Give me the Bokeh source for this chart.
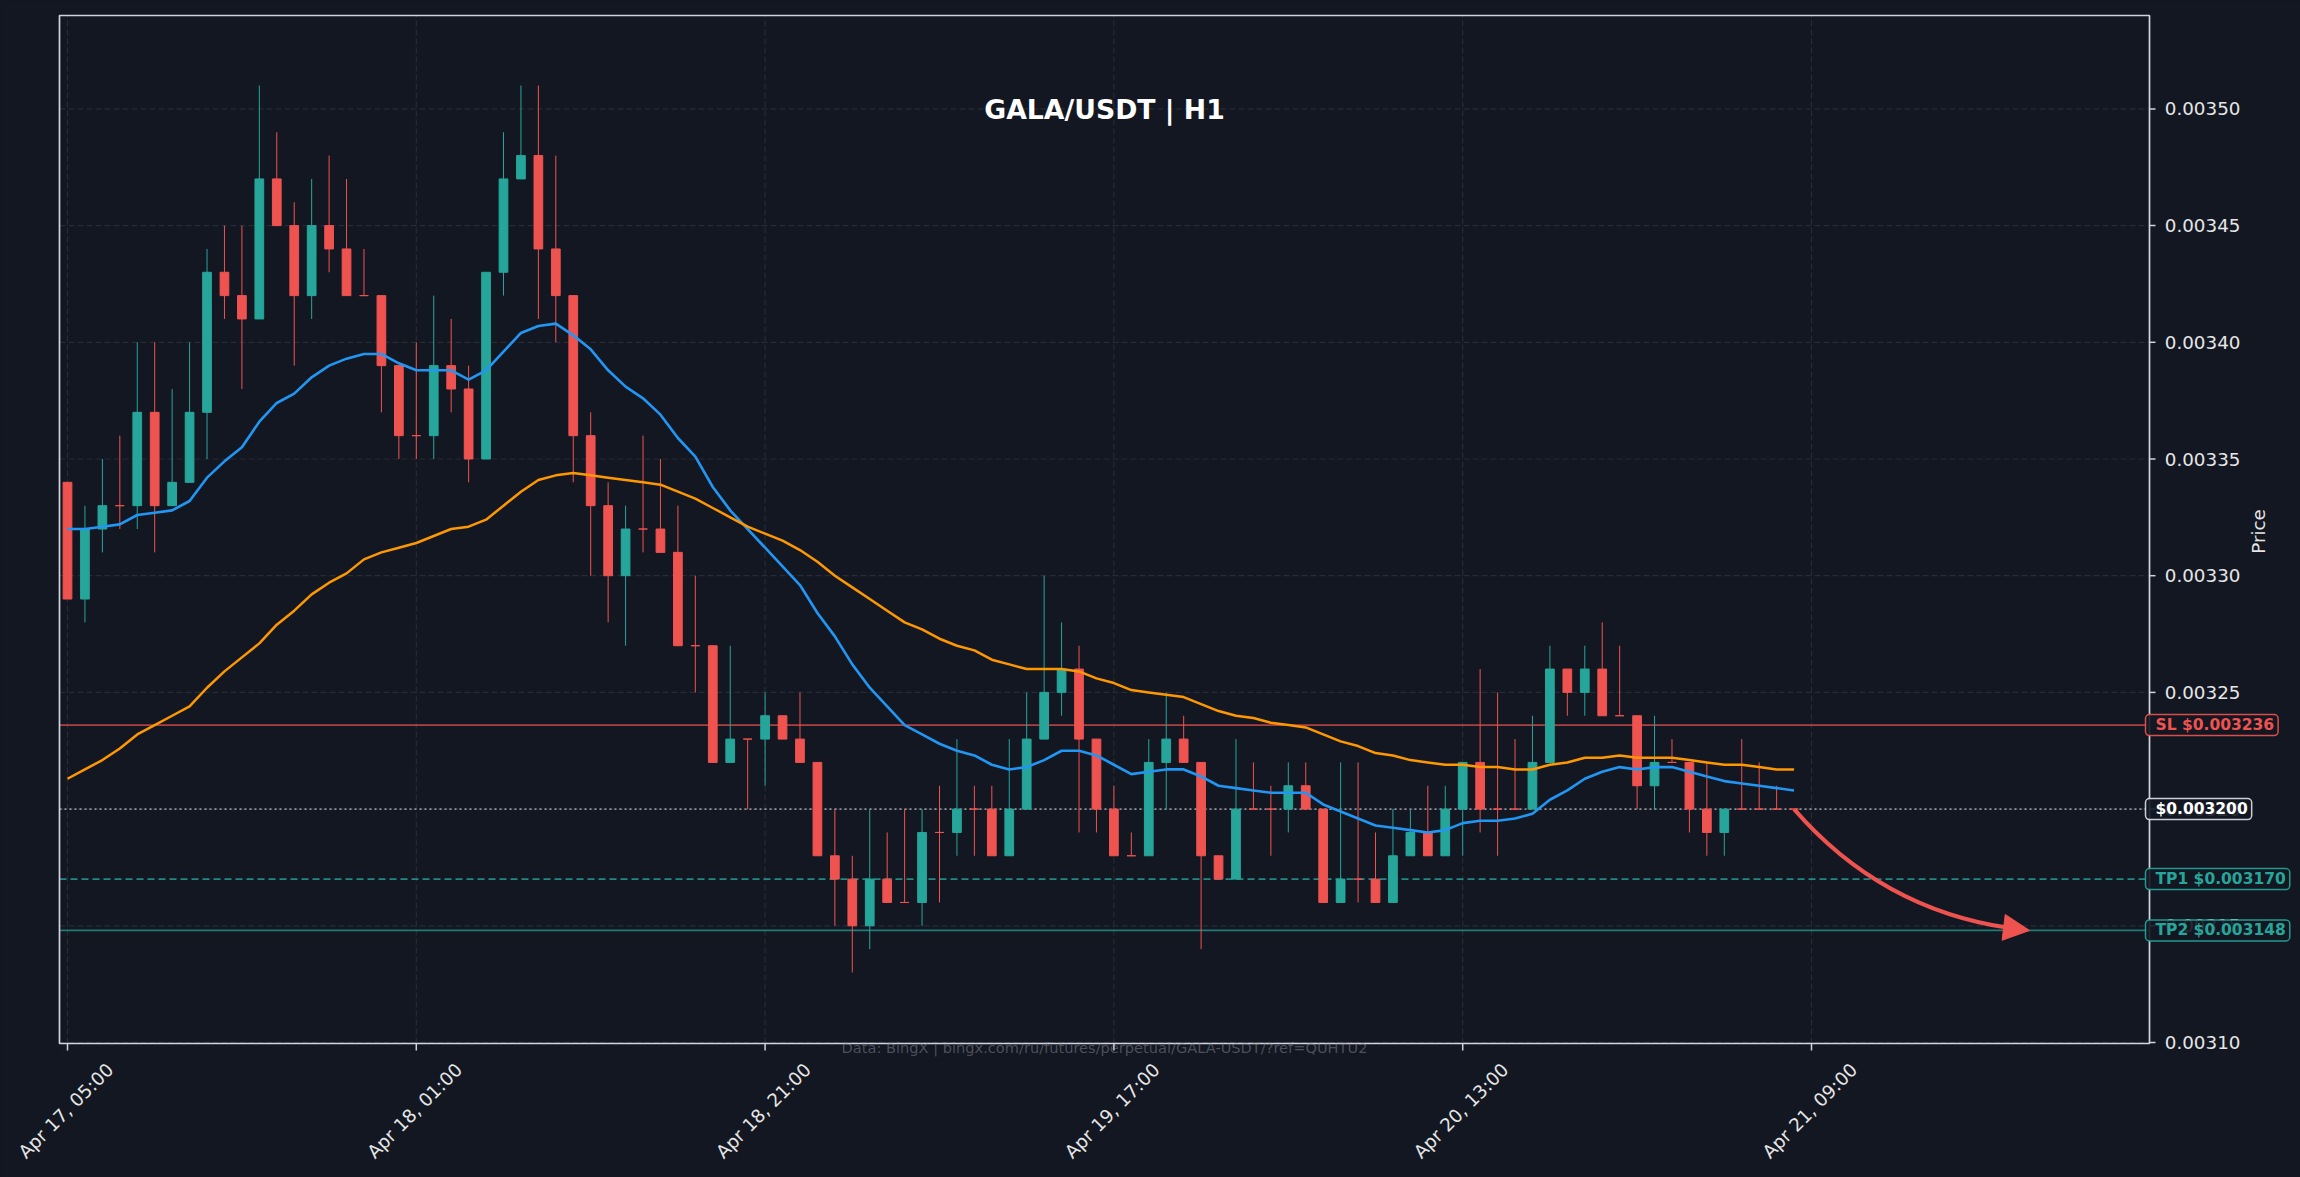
import math
from bokeh.plotting import figure
from bokeh.models import (Label, FixedTicker, Range1d, LinearAxis, Arrow, NormalHead,
                          ColumnDataSource, BoxAnnotation)
from bokeh.core.properties import value
from bokeh.embed import file_html
from bokeh.resources import INLINE

# ---------------- data (prices in units of 0.00001 USDT) ----------------
PRICE_UNIT = 0.00001
opens_u = [334, 329, 332, 333, 333, 337, 333, 334, 337, 343,
           342, 341, 347, 345, 342, 345, 344, 342, 342, 339,
           336, 336, 339, 338, 335, 343, 347, 348, 344, 342,
           336, 333, 330, 332, 332, 331, 327, 327, 322, 323,
           323, 324, 323, 322, 318, 317, 315, 317, 316, 316,
           319, 319, 320, 320, 318, 320, 323, 325, 326, 323,
           320, 318, 318, 322, 323, 322, 318, 317, 320, 320,
           320, 321, 320, 316, 317, 317, 316, 318, 319, 318,
           320, 322, 320, 320, 320, 322, 326, 325, 326, 324,
           324, 321, 322, 322, 320, 319, 320, 320, 320, 320]
highs_u = [334, 333, 335, 336, 340, 340, 338, 340, 344, 345,
           345, 351, 349, 346, 347, 348, 347, 344, 342, 339,
           340, 342, 341, 339, 343, 349, 351, 351, 348, 342,
           337, 334, 333, 336, 335, 333, 330, 327, 327, 323,
           325, 324, 325, 322, 320, 318, 320, 319, 320, 320,
           321, 323, 321, 321, 323, 325, 330, 328, 327, 323,
           321, 319, 323, 325, 324, 322, 318, 323, 322, 321,
           322, 322, 320, 322, 322, 319, 320, 320, 321, 321,
           322, 326, 325, 323, 324, 327, 326, 327, 328, 327,
           324, 324, 323, 322, 322, 320, 323, 322, 321, 320]
lows_u = [329, 328, 331, 332, 332, 331, 333, 334, 335, 341,
          338, 341, 345, 339, 341, 343, 342, 342, 337, 335,
          335, 335, 337, 334, 335, 342, 347, 341, 340, 334,
          330, 328, 327, 331, 331, 327, 325, 322, 322, 320,
          321, 323, 322, 318, 315, 313, 314, 316, 316, 315,
          316, 318, 318, 318, 318, 320, 323, 324, 319, 319,
          318, 318, 318, 320, 322, 314, 317, 317, 320, 318,
          319, 320, 316, 316, 316, 316, 316, 318, 318, 318,
          318, 319, 318, 320, 320, 322, 324, 324, 324, 324,
          320, 320, 322, 319, 318, 318, 320, 320, 320, 320]
closes_u = [329, 332, 333, 333, 337, 333, 334, 337, 343, 342,
            341, 347, 345, 342, 345, 344, 342, 342, 339, 336,
            336, 339, 338, 335, 343, 347, 348, 344, 342, 336,
            333, 330, 332, 332, 331, 327, 327, 322, 323, 323,
            324, 323, 322, 318, 317, 315, 317, 316, 316, 319,
            319, 320, 320, 318, 320, 323, 325, 326, 323, 320,
            318, 318, 322, 323, 322, 318, 317, 320, 320, 320,
            321, 320, 316, 317, 317, 316, 318, 319, 318, 320,
            322, 320, 320, 320, 322, 326, 325, 326, 324, 324,
            321, 322, 322, 320, 319, 320, 320, 320, 320, 320]

ema_fast = [0.003320, 0.003320, 0.003321, 0.003322, 0.003326, 0.003327, 0.003328, 0.003332, 0.003342, 0.003349,
            0.003355, 0.003366, 0.003374, 0.003378, 0.003385, 0.003390, 0.003393, 0.003395, 0.003395, 0.003391,
            0.003388, 0.003388, 0.003388, 0.003384, 0.003388, 0.003396, 0.003404, 0.003407, 0.003408, 0.003403,
            0.003397, 0.003388, 0.003381, 0.003376, 0.003369, 0.003359, 0.003351, 0.003338, 0.003328, 0.003320,
            0.003312, 0.003304, 0.003296, 0.003284, 0.003274, 0.003262, 0.003252, 0.003244, 0.003236, 0.003232,
            0.003228, 0.003225, 0.003223, 0.003219, 0.003217, 0.003218, 0.003221, 0.003225, 0.003225, 0.003223,
            0.003219, 0.003215, 0.003216, 0.003217, 0.003217, 0.003214, 0.003210, 0.003209, 0.003208, 0.003207,
            0.003207, 0.003207, 0.003202, 0.003199, 0.003196, 0.003193, 0.003192, 0.003191, 0.003190, 0.003191,
            0.003194, 0.003195, 0.003195, 0.003196, 0.003198, 0.003204, 0.003208, 0.003213, 0.003216, 0.003218,
            0.003217, 0.003218, 0.003218, 0.003216, 0.003214, 0.003212, 0.003211, 0.003210, 0.003209, 0.003208]
ema_slow = [0.003213, 0.003217, 0.003221, 0.003226, 0.003232, 0.003236, 0.003240, 0.003244, 0.003252, 0.003259,
            0.003265, 0.003271, 0.003279, 0.003285, 0.003292, 0.003297, 0.003301, 0.003307, 0.003310, 0.003312,
            0.003314, 0.003317, 0.003320, 0.003321, 0.003324, 0.003330, 0.003336, 0.003341, 0.003343, 0.003344,
            0.003343, 0.003342, 0.003341, 0.003340, 0.003339, 0.003336, 0.003333, 0.003329, 0.003325, 0.003321,
            0.003318, 0.003315, 0.003311, 0.003306, 0.003300, 0.003295, 0.003290, 0.003285, 0.003280, 0.003277,
            0.003273, 0.003270, 0.003268, 0.003264, 0.003262, 0.003260, 0.003260, 0.003260, 0.003259, 0.003256,
            0.003254, 0.003251, 0.003250, 0.003249, 0.003248, 0.003245, 0.003242, 0.003240, 0.003239, 0.003237,
            0.003236, 0.003235, 0.003232, 0.003229, 0.003227, 0.003224, 0.003223, 0.003221, 0.003220, 0.003219,
            0.003219, 0.003218, 0.003218, 0.003217, 0.003217, 0.003219, 0.003220, 0.003222, 0.003222, 0.003223,
            0.003222, 0.003222, 0.003222, 0.003221, 0.003220, 0.003219, 0.003219, 0.003218, 0.003217, 0.003217]

x_tick_pos = [0, 20, 40, 60, 80, 100]
x_tick_labels = ["Apr 17, 05:00", "Apr 18, 01:00", "Apr 18, 21:00",
                 "Apr 19, 17:00", "Apr 20, 13:00", "Apr 21, 09:00"]
y_ticks = [0.00310, 0.00315, 0.00320, 0.00325, 0.00330, 0.00335, 0.00340, 0.00345, 0.00350]

sl_price = 0.003236
entry_price = 0.003200
tp1_price = 0.003170
tp2_price = 0.003148

title_text = "GALA/USDT | H1"
source_text = "Data: BingX | bingx.com/ru/futures/perpetual/GALA-USDT/?ref=QUHTU2"

# ---------------- styling / layout ----------------
BG = "#131722"
FG = "#d1d4dc"
TXT = "#e6e6e6"
GRID = "#2a2e39"
UP = "#26a69a"
DOWN = "#ef5350"
BLUE = "#2196f3"
ORANGE = "#ff9800"
FONT = "DejaVu Sans"

W, H = 2300, 1177
PX_PER_CANDLE = 17.44
PX_PER_PRICE = 116.7 / 0.00005
FIRST_CANDLE_PX = 67.0
BASE_PRICE, BASE_PRICE_PX = 0.00310, 1042.0
VIS_LEFT, VIS_RIGHT, VIS_TOP, VIS_BOTTOM = 59, 2149, 15, 1043   # drawn frame (page px)
FR_LEFT, FR_TOP, FR_BOTTOM = 57, 13, 1060                      # bokeh frame, runs to right edge


def px_x(px):
    return (px - FIRST_CANDLE_PX) / PX_PER_CANDLE


def px_y(py):
    return BASE_PRICE + (BASE_PRICE_PX - py) / PX_PER_PRICE


X0, X1 = px_x(FR_LEFT), px_x(W)
Y0, Y1 = px_y(FR_BOTTOM), px_y(FR_TOP)
XV0, XV1 = px_x(VIS_LEFT), px_x(VIS_RIGHT)
YV0, YV1 = px_y(VIS_BOTTOM), px_y(VIS_TOP)

opens = [v * PRICE_UNIT for v in opens_u]
highs = [v * PRICE_UNIT for v in highs_u]
lows = [v * PRICE_UNIT for v in lows_u]
closes = [v * PRICE_UNIT for v in closes_u]
n = len(opens)
xs = list(range(n))
colors = [UP if c > o else DOWN for o, c in zip(opens_u, closes_u)]
src = ColumnDataSource(dict(x=xs, o=opens, h=highs, l=lows, c=closes, col=colors))

p = figure(width=W, height=H, output_backend="svg", toolbar_location=None, title=None,
           x_axis_location=None, y_axis_location=None,
           x_range=Range1d(X0, X1), y_range=Range1d(Y0, Y1),
           min_border_left=FR_LEFT, min_border_right=0, min_border_top=FR_TOP,
           min_border_bottom=H - FR_BOTTOM)
p.background_fill_color = BG
p.border_fill_color = BG
p.outline_line_color = None
for g in p.grid:
    g.visible = False

# ---- bottom axis: rotated date labels, centred under their ticks ----
LABEL_SHIFT_PX = 42.5
shift = LABEL_SHIFT_PX / PX_PER_CANDLE
p.extra_x_ranges = {"xlab": Range1d(X0 - shift, X1 - shift)}
lab_ax = LinearAxis(x_range_name="xlab", ticker=FixedTicker(ticks=x_tick_pos),
                    major_label_overrides={pos: lab for pos, lab in zip(x_tick_pos, x_tick_labels)},
                    major_label_orientation=math.pi / 4,
                    major_tick_out=0, major_tick_in=0, major_tick_line_color=None,
                    minor_tick_out=0, minor_tick_in=0, minor_tick_line_color=None,
                    axis_line_color=None, major_label_standoff=6,
                    major_label_text_font=FONT, major_label_text_font_size="18.3px",
                    major_label_text_color=TXT)
p.add_layout(lab_ax, "below")

# ---- grid ----
nx, ny = len(x_tick_pos), len(y_ticks)
p.segment(x0=x_tick_pos, x1=x_tick_pos, y0=[YV0] * nx, y1=[YV1] * nx, line_color=GRID,
          line_dash="6 3", line_width=1.2, line_alpha=0.9)
p.segment(x0=[XV0] * ny, x1=[XV1] * ny, y0=y_ticks, y1=y_ticks, line_color=GRID,
          line_dash="6 3", line_width=1.2, line_alpha=0.9)

# ---- level lines ----
p.segment(x0=[XV0], x1=[XV1], y0=[sl_price], y1=[sl_price], line_color=DOWN, line_alpha=0.7,
          line_width=1.7)
p.segment(x0=[XV0], x1=[XV1], y0=[entry_price], y1=[entry_price], line_color=FG, line_alpha=0.65,
          line_width=1.6, line_dash="2 3")
p.segment(x0=[XV0], x1=[XV1], y0=[tp1_price], y1=[tp1_price], line_color=UP, line_alpha=0.8,
          line_width=1.8, line_dash="7 4")
p.segment(x0=[XV0], x1=[XV1], y0=[tp2_price], y1=[tp2_price], line_color=UP, line_alpha=0.7,
          line_width=1.8)

# ---- candles ----
p.segment(x0="x", y0="l", x1="x", y1="h", line_color="col", line_width=1, source=src)
p.vbar(x="x", width=0.5, top="o", bottom="c", fill_color="col", line_color="col",
       line_width=1, source=src)

# ---- moving averages ----
p.line(xs, ema_fast, line_color=BLUE, line_width=2.6)
p.line(xs, ema_slow, line_color=ORANGE, line_width=2.5)

# ---- projected move arrow (arc from last close to TP2) ----
ARROW_REACH = 13.5
ARROW_RAD = 0.2
ax0, ay0 = n - 1, closes[-1]
ax1, ay1 = n - 1 + ARROW_REACH, tp2_price
SX0, SY0 = ax0 * PX_PER_CANDLE, ay0 * PX_PER_PRICE
SX1, SY1 = ax1 * PX_PER_CANDLE, ay1 * PX_PER_PRICE
dX, dY = SX1 - SX0, SY1 - SY0
cx = ((SX0 + SX1) / 2 + ARROW_RAD * dY) / PX_PER_CANDLE
cy = ((SY0 + SY1) / 2 - ARROW_RAD * dX) / PX_PER_PRICE
t = 0.93
q0x, q0y = ax0 + t * (cx - ax0), ay0 + t * (cy - ay0)
q1x, q1y = cx + t * (ax1 - cx), cy + t * (ay1 - cy)
bx, by = q0x + t * (q1x - q0x), q0y + t * (q1y - q0y)
p.quadratic(x0=[ax0], y0=[ay0], x1=[bx], y1=[by], cx=[q0x], cy=[q0y],
            line_color=DOWN, line_width=4)
p.add_layout(Arrow(end=NormalHead(size=26, fill_color=DOWN, line_color=DOWN, line_width=1),
                   x_start=bx, y_start=by, x_end=ax1, y_end=ay1,
                   line_color=DOWN, line_width=4))

# ---- drawn frame and its tick marks ----
p.add_layout(BoxAnnotation(left=XV0, right=XV1, bottom=YV0, top=YV1, fill_color=None,
                           line_color=FG, line_width=1.7, line_alpha=1.0))
p.segment(x0=x_tick_pos, x1=x_tick_pos, y0=[YV0] * nx, y1=[px_y(VIS_BOTTOM + 7)] * nx,
          line_color=FG, line_width=1.5)
tick_len = 6 / PX_PER_CANDLE
p.segment(x0=[XV1] * ny, x1=[XV1 + tick_len] * ny, y0=y_ticks, y1=y_ticks,
          line_color=FG, line_width=1.5)

# ---- price scale labels ----
p.text(x=[XV1] * ny, y=y_ticks, text=[f"{v:.5f}" for v in y_ticks], x_offset=15.3,
       text_align="left", text_baseline="middle", text_font=value(FONT),
       text_font_size=value("18.3px"), text_color=TXT)
p.add_layout(Label(x=XV1, x_offset=108.7, y=px_y(531), text="Price", angle=math.pi / 2,
                   text_align="center", text_baseline="middle", text_font=FONT,
                   text_font_size="18.3px", text_color=TXT))

# ---- title inside the frame ----
p.add_layout(Label(x=(XV0 + XV1) / 2, y=px_y(109), text=title_text, text_align="center",
                   text_baseline="middle", text_font=FONT, text_font_size="26.7px",
                   text_font_style="bold", text_color="white"))

# ---- data-source note just under the frame ----
p.add_layout(Label(x=(XV0 + XV1) / 2, y=px_y(1047), text=source_text, text_align="center",
                   text_baseline="middle", text_font=FONT, text_font_size="14.6px",
                   text_color="#9598a1", text_alpha=0.45))

# ---- level tags on the price scale ----
tags = [(f"SL ${sl_price:.6f}", sl_price, DOWN, DOWN),
        (f"${entry_price:.6f}", entry_price, "white", "#e0e3eb"),
        (f"TP1 ${tp1_price:.6f}", tp1_price, UP, UP),
        (f"TP2 ${tp2_price:.6f}", tp2_price, UP, UP)]
for txt, lvl, tcol, bcol in tags:
    p.add_layout(Label(x=XV1, x_offset=-4, y=lvl, text=txt, text_align="left",
                       text_baseline="middle", text_font=FONT, text_font_size="15.5px",
                       text_font_style="bold", text_color=tcol,
                       background_fill_color=BG, background_fill_alpha=0.9,
                       border_line_color=bcol, border_line_width=1.5, border_line_alpha=0.9,
                       border_radius=4, padding=dict(left=10, right=4, top=1, bottom=2)))

html = file_html(p, INLINE, title=title_text)
html = html.replace("</head>", "<style>body{background-color:#131722;}</style></head>", 1)
open("out.html", "w").write(html)
